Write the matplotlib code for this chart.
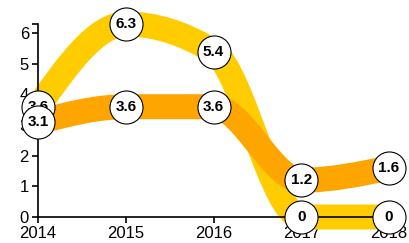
import numpy as np
import matplotlib.pyplot as plt
from matplotlib.path import Path
from matplotlib.patches import PathPatch

years = [2014, 2015, 2016, 2017, 2018]
yellow_vals = [3.6, 6.3, 5.4, 0, 0]
orange_vals = [3.1, 3.6, 3.6, 1.2, 1.6]
yellow_col = "#FFCC00"
orange_col = "#FFA500"

plt.rcParams['font.family'] = ['Liberation Sans', 'DejaVu Sans']


def monotone_path(x, y):
    # same bezier control points as d3.curveMonotoneX
    x = np.asarray(x, float)
    y = np.asarray(y, float)
    n = len(x)
    h = np.diff(x)
    s = np.diff(y) / h
    t = np.zeros(n)
    for i in range(1, n - 1):
        p = (s[i - 1] * h[i] + s[i] * h[i - 1]) / (h[i - 1] + h[i])
        t[i] = (np.sign(s[i - 1]) + np.sign(s[i])) * min(abs(s[i - 1]), abs(s[i]), 0.5 * abs(p))
    t[0] = (3 * s[0] - t[1]) / 2
    t[-1] = (3 * s[-1] - t[-2]) / 2
    verts = [(x[0], y[0])]
    codes = [Path.MOVETO]
    for i in range(n - 1):
        dx = h[i] / 3
        verts += [(x[i] + dx, y[i] + dx * t[i]), (x[i + 1] - dx, y[i + 1] - dx * t[i + 1]), (x[i + 1], y[i + 1])]
        codes += [Path.CURVE4] * 3
    return Path(verts, codes)


fig = plt.figure(figsize=(4.1, 2.43), dpi=100)
ax = fig.add_axes([38 / 410, 26 / 243, 351 / 410, 193 / 243])

z = 2
for vals, col in [(yellow_vals, yellow_col), (orange_vals, orange_col)]:
    patch = PathPatch(monotone_path(years, vals), fill=False, edgecolor=col,
                      linewidth=18, capstyle='butt', joinstyle='round', zorder=z, clip_on=False)
    ax.add_patch(patch)
    z += 1

z = 5
for vals in [yellow_vals, orange_vals]:
    ax.scatter(years, vals, s=566, facecolor='white', edgecolor='black', linewidth=0.8,
               zorder=z, clip_on=False)
    for xv, yv in zip(years, vals):
        ax.text(xv, yv, f"{yv:g}", ha='center', va='center', fontsize=11,
                fontweight='bold', zorder=z + 1, clip_on=False)
    z += 2

ax.set_xlim(2014, 2018)
ax.set_ylim(0, 6.3)
ax.set_xticks(years)
ax.set_yticks(range(7))
ax.set_yticks([6.3], minor=True)
ax.spines['top'].set_visible(False)
ax.spines['right'].set_visible(False)
for sp in ['left', 'bottom']:
    ax.spines[sp].set_linewidth(1.2)
ax.tick_params(which='both', length=4.5, width=1.2, labelsize=12, pad=2)
ax.tick_params(axis='y', which='minor', labelleft=False)

fig.savefig("out.png", dpi=100)
